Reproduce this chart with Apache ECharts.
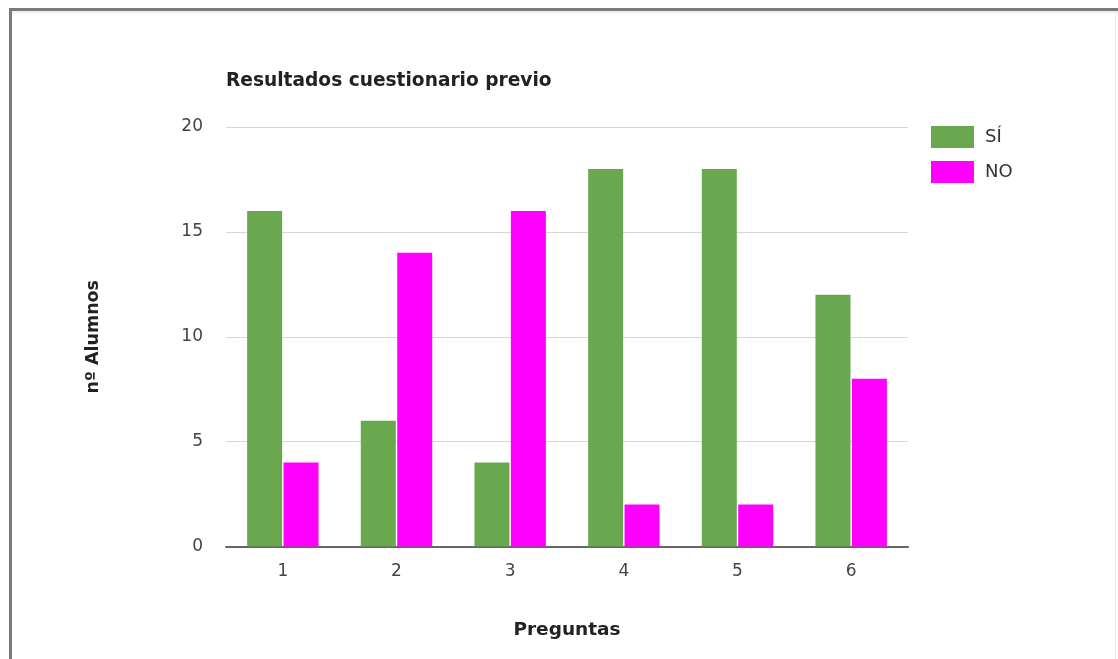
<!DOCTYPE html>
<html>
<head>
<meta charset="utf-8">
<script src="https://cdn.jsdelivr.net/npm/echarts@6/dist/echarts.min.js"></script>
<style>
  html, body { margin: 0; padding: 0; background: #fff; overflow: hidden; }
  #frame { position: absolute; left: 9px; top: 8px; width: 1130px; height: 700px;
           border: 3px solid #7b7b7b; border-right: none; box-sizing: border-box;
           box-shadow: inset 0 4px 4px -3px rgba(0,0,0,0.12); }
  #edge { position: absolute; left: 1115px; top: 11px; width: 1px; height: 660px; background: #ececec; }
  #chart { position: absolute; left: 0; top: 0; width: 1118px; height: 659px; }
</style>
</head>
<body>
<div id="frame"></div>
<div id="edge"></div>
<div id="chart"></div>
<script>
// Survey results per question
const categories = ['1', '2', '3', '4', '5', '6'];
const siValues = [16, 6, 4, 18, 18, 12];
const noValues = [4, 14, 16, 2, 2, 8];
const yTicks = [0, 5, 10, 15, 20];

const chart = echarts.init(document.getElementById('chart'), null, { renderer: 'canvas' });
const font = '"DejaVu Sans", Arial, sans-serif';

chart.setOption({
  animation: false,
  title: {
    text: 'Resultados cuestionario previo',
    left: 226, top: 72, padding: 0,
    textStyle: { fontFamily: font, fontSize: 18.6, fontWeight: 'bold', color: '#222' }
  },
  legend: {
    orient: 'vertical',
    left: 931, top: 126, padding: 0,
    itemWidth: 43, itemHeight: 22, itemGap: 13,
    icon: 'rect',
    textStyle: { fontFamily: font, fontSize: 18, color: '#333', padding: [0, 0, 0, 6] },
    data: ['SÍ', 'NO']
  },
  grid: { left: 226, right: 210, top: 127, bottom: 112.5, containLabel: false },
  xAxis: {
    type: 'category',
    data: categories,
    name: 'Preguntas',
    nameLocation: 'middle',
    nameGap: 74,
    nameTextStyle: { fontFamily: font, fontSize: 18.5, fontWeight: 'bold', color: '#222' },
    axisLine: { lineStyle: { color: '#666', width: 2 } },
    axisTick: { show: false },
    axisLabel: { fontFamily: font, fontSize: 17, color: '#444', margin: 17 }
  },
  yAxis: {
    type: 'value',
    min: yTicks[0], max: yTicks[yTicks.length - 1], interval: 5,
    name: 'nº Alumnos',
    nameLocation: 'middle',
    nameRotate: 90,
    nameGap: 124,
    nameTextStyle: { fontFamily: font, fontSize: 17.5, fontWeight: 'bold', color: '#222' },
    axisLine: { show: false },
    axisTick: { show: false },
    splitLine: { lineStyle: { color: '#d6d6d6', width: 1 } },
    axisLabel: { fontFamily: font, fontSize: 17, color: '#444', margin: 23 }
  },
  series: [
    {
      name: 'SÍ', type: 'bar', data: siValues,
      barWidth: 35, barGap: '4%',
      itemStyle: { color: '#6aa84f' }
    },
    {
      name: 'NO', type: 'bar', data: noValues,
      barWidth: 35,
      itemStyle: { color: '#ff00ff' }
    }
  ]
});
</script>
</body>
</html>
